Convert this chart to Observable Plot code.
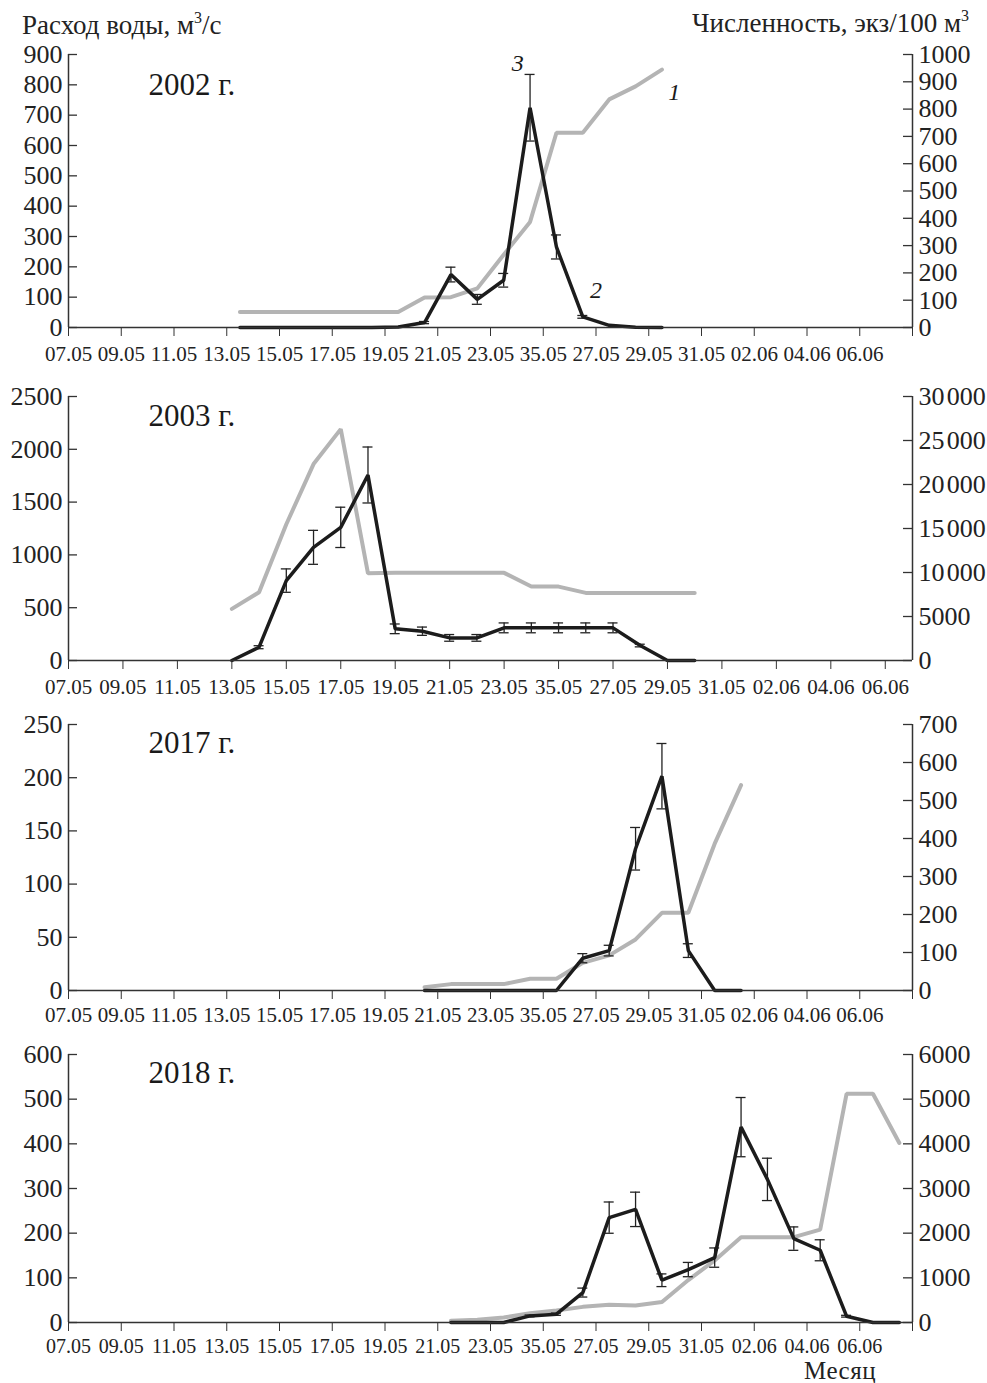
<!DOCTYPE html>
<html>
<head>
<meta charset="utf-8">
<script src="https://cdn.jsdelivr.net/npm/d3@7"></script>
<script src="https://cdn.jsdelivr.net/npm/@observablehq/plot@0.6"></script>
<style>
  body { margin: 0; background: #fff; }
  #chart { position: relative; width: 987px; height: 1383px; font-family: "Liberation Serif", "Times New Roman", serif; color: #222; background: #fff; }
  .lbl { position: absolute; font-size: 27px; line-height: 27px; white-space: nowrap; }
  .lbl sup { font-size: 16px; line-height: 0; position: relative; top: -1px; }
  #chart svg { position: absolute; left: 0; }
</style>
</head>
<body>
<div id="chart">
  <div class="lbl" style="left:22px; top:12px;">Расход воды, м<sup>3</sup>/с</div>
  <div class="lbl" style="right:18px; top:10px;">Численность, экз/100 м<sup>3</sup></div>
  <div class="lbl" style="left:804px; top:1357.5px; font-size:25px; line-height:25px; letter-spacing:0.5px;">Месяц</div>
</div>
<script>
// ---------- x axis tick labels (every second day, as printed) ----------
const xTickLabels = ["07.05","09.05","11.05","13.05","15.05","17.05","19.05","21.05","23.05","35.05","27.05","29.05","31.05","02.06","04.06","06.06"];

// ---------- 2002 ----------
const dates2002 = ["13.05","14.05","15.05","16.05","17.05","18.05","19.05","20.05","21.05","22.05","23.05","24.05","25.05","26.05","27.05","28.05","29.05"];
const discharge2002 = [51,51,51,51,51,51,51,99,100,129,240,348,642,642,752,795,850];
const abundance2002 = [0,0,0,0,0,0,2,18,194,103,173,805,295,39,8,1,0];
const error2002     = [0,0,0,0,0,0,0,4,27,18,25,122,44,5,0,0,0];
const leftTicks2002  = [0,100,200,300,400,500,600,700,800,900];
const rightTicks2002 = [0,100,200,300,400,500,600,700,800,900,1000];

// ---------- 2003 ----------
const dates2003 = ["13.05","14.05","15.05","16.05","17.05","18.05","19.05","20.05","21.05","22.05","23.05","24.05","25.05","26.05","27.05","28.05","29.05","30.05"];
const discharge2003 = [489,646,1290,1860,2191,826,830,830,830,830,830,700,700,640,640,640,640,640];
const abundance2003 = [0,1510,9080,12860,15130,21080,3600,3330,2570,2570,3710,3710,3710,3710,3710,1700,0,0];
const error2003     = [0,170,1330,1930,2290,3180,550,470,380,380,560,560,560,560,560,150,0,0];
const leftTicks2003  = [0,500,1000,1500,2000,2500];
const rightTicks2003 = [0,5000,10000,15000,20000,25000,30000];

// ---------- 2017 ----------
const dates2017 = ["20.05","21.05","22.05","23.05","24.05","25.05","26.05","27.05","28.05","29.05","30.05","31.05","01.06"];
const discharge2017 = [3,6,6,6,11,11,26,33,48,73,73,138,193];
const abundance2017 = [0,0,0,0,0,0,85,105,373,564,105,0,0];
const error2017     = [0,0,0,0,0,0,12,14,56,86,18,0,0];
const leftTicks2017  = [0,50,100,150,200,250];
const rightTicks2017 = [0,100,200,300,400,500,600,700];

// ---------- 2018 ----------
const dates2018 = ["21.05","22.05","23.05","24.05","25.05","26.05","27.05","28.05","29.05","30.05","31.05","01.06","02.06","03.06","04.06","05.06","06.06","07.06"];
const discharge2018 = [4,6,11,21,27,35,40,38,46,95,139,191,191,191,208,512,512,402];
const abundance2018 = [0,0,0,148,186,670,2348,2533,946,1185,1453,4374,3204,1878,1617,141,0,0];
const error2018     = [0,0,0,20,25,100,350,385,142,160,216,663,474,262,235,20,0,0];
const leftTicks2018  = [0,100,200,300,400,500,600];
const rightTicks2018 = [0,1000,2000,3000,4000,5000,6000];

// ---------- curve labels (2002 panel) ----------
const curveLabels = ["1", "2", "3"];
const curveLabelDays = [22.97, 20.0, 17.03];
const curveLabelValues = [776, 123, 870];

const FONT = '"Liberation Serif", "Times New Roman", serif';
const parseDay = s => { const [dd, mm] = s.split(".").map(Number); return mm === 5 ? dd - 7 : dd + 24; };
const fmt = v => v >= 10000 ? String(v).replace(/\B(?=(\d{3})+(?!\d))/g, "\u200A") : String(v);

function panel(cfg) {
  const W = 987, ML = 68, MR = 75;
  const plotW = W - ML - MR;
  const k = cfg.leftMax / cfg.rightMax;
  const rows = cfg.dates.map((d, i) => ({
    x: parseDay(d) + cfg.offset,
    q: cfg.discharge[i],
    n: cfg.abundance[i] * k,
    lo: (cfg.abundance[i] - cfg.error[i]) * k,
    hi: (cfg.abundance[i] + cfg.error[i]) * k,
    e: cfg.error[i]
  }));
  const errRows = rows.filter(r => r.e > 0);
  const xTicks = d3.range(0, cfg.xMax + 1, 2);
  const capHalf = 5 * cfg.xMax / plotW;
  const rightScaled = cfg.rightTicks.map(v => v * k);
  const marks = [
    Plot.line(rows, {x: "x", y: "q", stroke: "#b4b4b4", strokeWidth: 4, strokeLinejoin: "miter"}),
    Plot.ruleX(errRows, {x: "x", y1: "lo", y2: "hi", stroke: "#222", strokeWidth: 1.3}),
    Plot.ruleY(errRows, {y: "lo", x1: r => r.x - capHalf, x2: r => r.x + capHalf, stroke: "#222", strokeWidth: 1.3}),
    Plot.ruleY(errRows, {y: "hi", x1: r => r.x - capHalf, x2: r => r.x + capHalf, stroke: "#222", strokeWidth: 1.3}),
    Plot.line(rows, {x: "x", y: "n", stroke: "#1c1c1c", strokeWidth: 3.5, strokeLinejoin: "miter"}),
    Plot.ruleY([0], {stroke: "#333", strokeWidth: 1.5}),
    Plot.ruleX([0, cfg.xMax], {stroke: "#333", strokeWidth: 1.5}),
    Plot.axisX(xTicks, {tickSize: 9, tickPadding: cfg.xPad, fontSize: cfg.xFont, stroke: "#333", tickFormat: d => xTickLabels[d / 2] ?? ""}),
    Plot.axisY(cfg.leftTicks, {anchor: "left", tickSize: 0, tickPadding: 6, tickFormat: d => String(d)}),
    Plot.tickY(cfg.leftTicks, {y: d => d, insetRight: plotW - 9, stroke: "#333", strokeWidth: 1.3}),
    Plot.axisY(rightScaled, {anchor: "right", tickSize: 0, tickPadding: 6, tickFormat: v => fmt(Math.round(v / k))}),
    Plot.tickY(rightScaled, {y: d => d, insetLeft: plotW - 9, stroke: "#333", strokeWidth: 1.3}),
    Plot.text([cfg.year], {frameAnchor: "top-left", dx: 80, dy: cfg.yearDy, lineAnchor: "bottom", textAnchor: "start", fontSize: 31, fill: "#1a1a1a", text: d => d})
  ];
  if (cfg.annot) {
    marks.push(Plot.text(cfg.annot.labels, {
      x: (d, i) => cfg.annot.days[i], y: (d, i) => cfg.annot.values[i], text: d => d,
      fontSize: 24, fontStyle: "italic", fill: "#1a1a1a"
    }));
  }
  const svg = Plot.plot({
    width: W, height: cfg.height,
    marginLeft: ML, marginRight: MR, marginTop: cfg.mt, marginBottom: cfg.mb,
    x: {domain: [0, cfg.xMax], label: null},
    y: {domain: [0, cfg.leftMax], label: null},
    style: {fontFamily: FONT, fontSize: "26px", color: "#222", background: "transparent", overflow: "visible"},
    marks
  });
  svg.style.top = cfg.top + "px";
  return svg;
}

const chart = document.getElementById("chart");
chart.appendChild(panel({year: "2002 г.", dates: dates2002, discharge: discharge2002, abundance: abundance2002, error: error2002,
  leftMax: 900, rightMax: 1000, leftTicks: leftTicks2002, rightTicks: rightTicks2002, xMax: 32, offset: 0.5,
  top: 0, height: 370, mt: 54, mb: 43, yearDy: 40, xPad: 10, xFont: 21,
  annot: {labels: curveLabels, days: curveLabelDays, values: curveLabelValues}}));
chart.appendChild(panel({year: "2003 г.", dates: dates2003, discharge: discharge2003, abundance: abundance2003, error: error2003,
  leftMax: 2500, rightMax: 30000, leftTicks: leftTicks2003, rightTicks: rightTicks2003, xMax: 31, offset: 0,
  top: 370, height: 330, mt: 26, mb: 40, yearDy: 29, xPad: 10, xFont: 21}));
chart.appendChild(panel({year: "2017 г.", dates: dates2017, discharge: discharge2017, abundance: abundance2017, error: error2017,
  leftMax: 250, rightMax: 700, leftTicks: leftTicks2017, rightTicks: rightTicks2017, xMax: 32, offset: 0.5,
  top: 700, height: 330, mt: 24, mb: 40, yearDy: 28, xPad: 8, xFont: 21}));
chart.appendChild(panel({year: "2018 г.", dates: dates2018, discharge: discharge2018, abundance: abundance2018, error: error2018,
  leftMax: 600, rightMax: 6000, leftTicks: leftTicks2018, rightTicks: rightTicks2018, xMax: 32, offset: 0.5,
  top: 1030, height: 332, mt: 24, mb: 40, yearDy: 28, xPad: 7, xFont: 20}));
</script>
</body>
</html>
